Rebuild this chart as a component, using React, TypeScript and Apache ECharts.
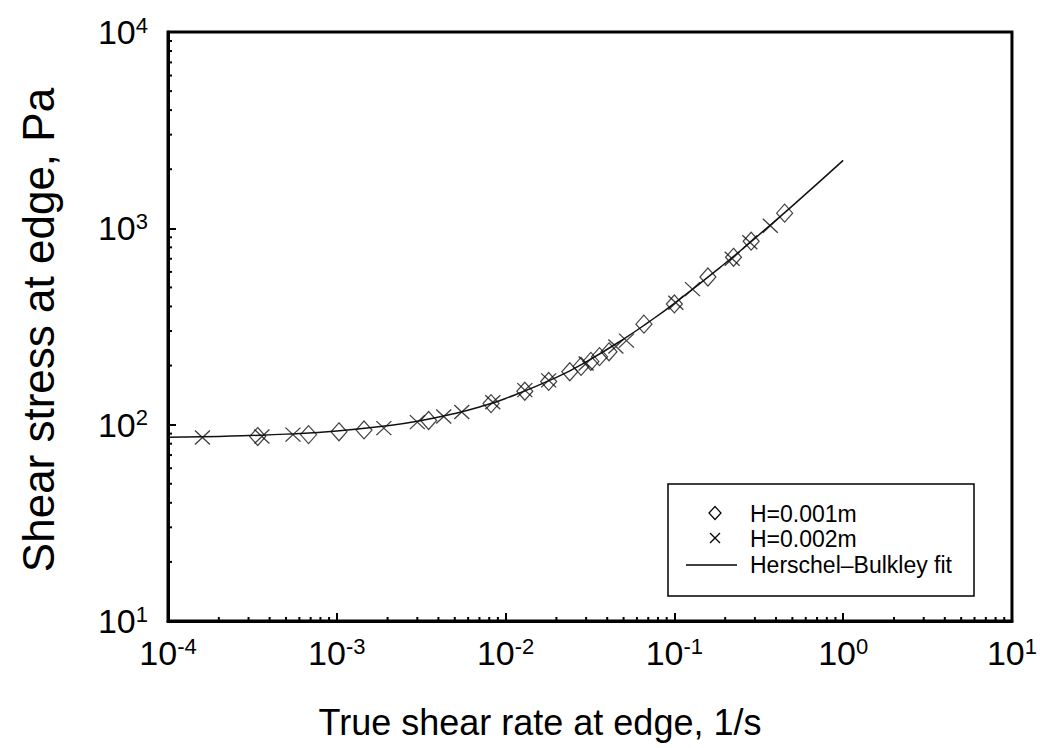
import React, { useEffect, useRef } from "react";
import * as echarts from "echarts";

// Measured points: [true shear rate at edge (1/s), shear stress at edge (Pa)]
const gapSmall: [number, number][] = [
  [3.4e-4, 87], [6.8e-4, 89], [1.03e-3, 92], [1.45e-3, 94], [3.5e-3, 105],
  [8.2e-3, 128], [1.3e-2, 148], [1.8e-2, 166], [2.4e-2, 186], [2.8e-2, 198],
  [3.2e-2, 210], [3.6e-2, 222], [4.1e-2, 235], [6.6e-2, 325], [0.1, 412],
  [0.158, 565], [0.224, 712], [0.285, 860], [0.45, 1195],
];

const gapLarge: [number, number][] = [
  [1.6e-4, 86], [3.6e-4, 87], [5.5e-4, 89], [1.9e-3, 96], [3.0e-3, 103],
  [4.3e-3, 110], [5.5e-3, 116], [8.4e-3, 130], [1.3e-2, 150], [1.8e-2, 168],
  [3.0e-2, 205], [4.5e-2, 250], [5.2e-2, 268], [0.102, 418], [0.128, 490],
  [0.22, 700], [0.28, 850], [0.37, 1030],
];

// Herschel–Bulkley fit curve
const fitRate = [1e-4, 2e-4, 3e-4, 5e-4, 1e-3, 2e-3, 3e-3, 5e-3, 7e-3, 1e-2, 2e-2, 3e-2, 5e-2, 7e-2, 0.1, 0.2, 0.3, 0.5, 1];
const fitStress = [86.2, 87.1, 88, 89.5, 92.9, 98.8, 104, 114, 123, 136, 174, 209, 273, 332, 415, 664, 889, 1302, 2220];

const xRange = [1e-4, 10];
const yRange = [10, 1e4];

const FONT = "Liberation Sans, Arial, sans-serif";

// minor tick positions (2..9 within each decade)
function minorTicks(lo: number, hi: number): number[] {
  const out: number[] = [];
  for (let d = lo; d < hi; d *= 10) {
    for (let k = 2; k <= 9; k++) out.push(k * d);
  }
  return out;
}

function powLabel(v: number) {
  const e = Math.round(Math.log10(v));
  return `{b|10}{s|${e}}`;
}

const labelRich = {
  b: { fontSize: 34, fontFamily: FONT, color: "#000", lineHeight: 36 },
  s: { fontSize: 22, fontFamily: FONT, color: "#000", verticalAlign: "top" as const, lineHeight: 22 },
};

export default function App() {
  const ref = useRef<HTMLDivElement>(null);

  useEffect(() => {
    if (!ref.current) return;
    const chart = echarts.init(ref.current, null, { renderer: "svg" });
    const xMinor = minorTicks(xRange[0], xRange[1]).map((v) => [v, yRange[0]]);
    const yMinor = minorTicks(yRange[0], yRange[1]).map((v) => [xRange[0], v]);

    const option: any = {
      animation: false,
      backgroundColor: "#fff",
      grid: {
        left: 168, top: 32, right: 27, bottom: 127,
        show: true, borderColor: "#000", borderWidth: 3, backgroundColor: "transparent",
      },
      xAxis: {
        type: "log", logBase: 10, min: xRange[0], max: xRange[1],
        axisLine: { lineStyle: { color: "#000", width: 3 } },
        axisTick: { inside: true, length: 8, lineStyle: { color: "#000", width: 2 } },
        axisLabel: { formatter: powLabel, rich: labelRich, margin: 14 },
        splitLine: { show: false },
      },
      yAxis: {
        type: "log", logBase: 10, min: yRange[0], max: yRange[1],
        axisLine: { lineStyle: { color: "#000", width: 3 } },
        axisTick: { inside: true, length: 8, lineStyle: { color: "#000", width: 2 } },
        axisLabel: { formatter: powLabel, rich: labelRich, margin: 20 },
        splitLine: { show: false },
      },
      series: [
        {
          type: "line",
          name: "Herschel–Bulkley fit",
          data: fitRate.map((x, i) => [x, fitStress[i]]),
          smooth: true,
          symbol: "none",
          lineStyle: { color: "#111", width: 1.5 },
          z: 2,
        },
        {
          type: "scatter",
          name: "H=0.001m",
          data: gapSmall,
          symbol: "diamond",
          symbolSize: [16, 18],
          itemStyle: { color: "transparent", borderColor: "#111", borderWidth: 1.2 },
          z: 3,
        },
        {
          type: "scatter",
          name: "H=0.002m",
          data: gapLarge,
          symbol: "path://M0 0L10 10M10 0L0 10",
          symbolSize: [15, 14],
          itemStyle: { color: "transparent", borderColor: "#111", borderWidth: 1.3 },
          z: 3,
        },
        {
          type: "custom",
          silent: true,
          data: xMinor,
          clip: false,
          renderItem: (params: any, api: any) => {
            const p = api.coord([api.value(0), api.value(1)]);
            return {
              type: "line",
              shape: { x1: p[0], y1: p[1], x2: p[0], y2: p[1] - 4 },
              style: { stroke: "#000", lineWidth: 2 },
            };
          },
          z: 4,
        },
        {
          type: "custom",
          silent: true,
          data: yMinor,
          clip: false,
          renderItem: (params: any, api: any) => {
            const p = api.coord([api.value(0), api.value(1)]);
            return {
              type: "line",
              shape: { x1: p[0], y1: p[1], x2: p[0] + 4, y2: p[1] },
              style: { stroke: "#000", lineWidth: 2 },
            };
          },
          z: 4,
        },
      ],
      graphic: [
        {
          type: "text",
          x: 540, y: 722,
          style: {
            text: "True shear rate at edge, 1/s",
            fontSize: 36, fontFamily: FONT, fill: "#000",
            align: "center", verticalAlign: "middle",
          },
        },
        {
          type: "text",
          x: 38, y: 330,
          rotation: Math.PI / 2,
          style: {
            text: "Shear stress at edge, Pa",
            fontSize: 44, fontFamily: FONT, fill: "#000",
            align: "center", verticalAlign: "middle",
          },
        },
        // legend box
        {
          type: "group",
          children: [
            {
              type: "rect",
              shape: { x: 668, y: 484, width: 306, height: 112 },
              style: { fill: "#fff", stroke: "#000", lineWidth: 1.5 },
            },
            {
              type: "polygon",
              shape: { points: [[709, 513], [715, 506.5], [721, 513], [715, 519.5]] },
              style: { fill: "none", stroke: "#000", lineWidth: 1.2 },
            },
            {
              type: "line",
              shape: { x1: 710, y1: 533, x2: 720, y2: 543 },
              style: { stroke: "#000", lineWidth: 1.3 },
            },
            {
              type: "line",
              shape: { x1: 720, y1: 533, x2: 710, y2: 543 },
              style: { stroke: "#000", lineWidth: 1.3 },
            },
            {
              type: "line",
              shape: { x1: 686, y1: 565, x2: 737, y2: 565 },
              style: { stroke: "#000", lineWidth: 1.5 },
            },
            {
              type: "text", x: 750, y: 514,
              style: { text: "H=0.001m", fontSize: 23, fontFamily: FONT, fill: "#000", verticalAlign: "middle" },
            },
            {
              type: "text", x: 750, y: 539,
              style: { text: "H=0.002m", fontSize: 23, fontFamily: FONT, fill: "#000", verticalAlign: "middle" },
            },
            {
              type: "text", x: 750, y: 565,
              style: { text: "Herschel–Bulkley fit", fontSize: 23, fontFamily: FONT, fill: "#000", verticalAlign: "middle" },
            },
          ],
        },
      ],
    };

    chart.setOption(option);
    return () => chart.dispose();
  }, []);

  return (
    <div
      ref={ref}
      style={{ position: "fixed", left: 0, top: 0, width: 1040, height: 748, background: "#fff" }}
    />
  );
}
